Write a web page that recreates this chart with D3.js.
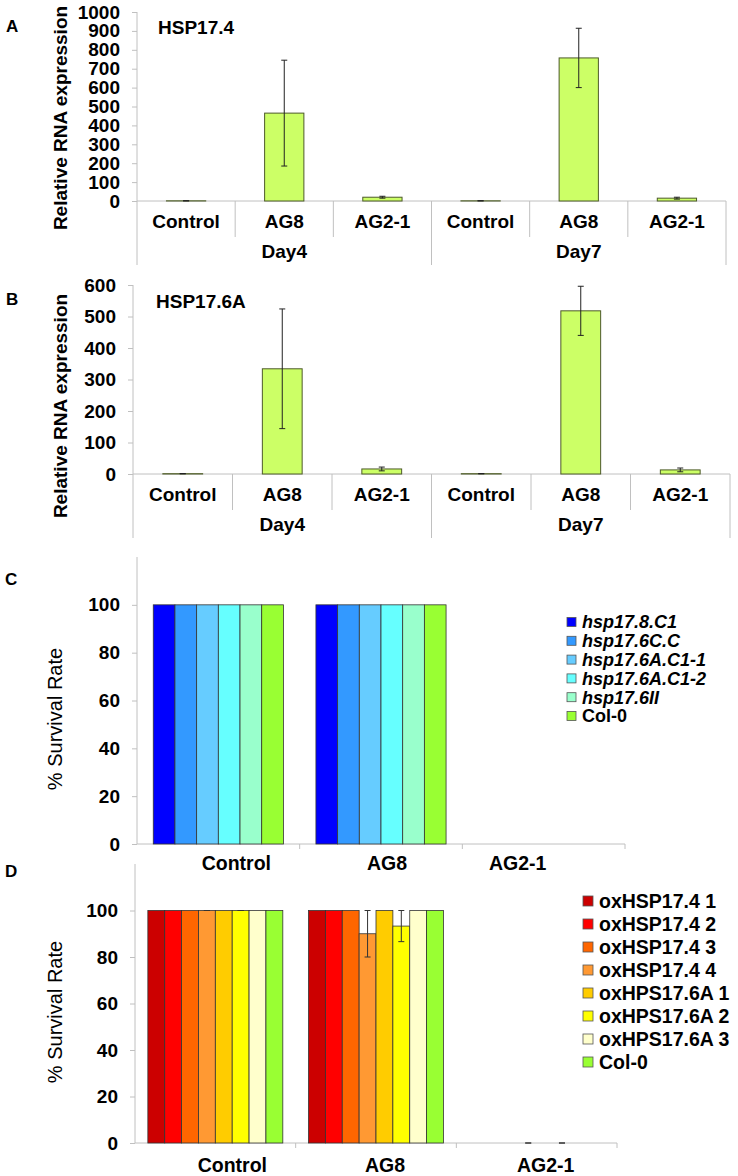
<!DOCTYPE html>
<html><head><meta charset="utf-8">
<script src="https://cdn.jsdelivr.net/npm/d3@7"></script>
<style>
body{margin:0;background:#fff}
svg{display:block}
text{font-family:"Liberation Sans",Arial,Helvetica,sans-serif;fill:#000}
</style>
</head><body>
<svg id="chart" width="738" height="1176"></svg>
<script>
// ---------------- DATA ----------------
const treatments = ["Control", "AG8", "AG2-1"];
const days = ["Day4", "Day7"];
// order: Day4 Control, AG8, AG2-1, Day7 Control, AG8, AG2-1
const hsp174Mean = [1, 465, 20, 1, 757, 15];
const hsp174Err  = [0.5, 280, 5, 0.5, 157, 5];
const hsp176aMean = [1, 334, 16, 1, 518, 13];
const hsp176aErr  = [0.5, 190, 6, 0.5, 78, 6];
const ticksA = [0, 100, 200, 300, 400, 500, 600, 700, 800, 900, 1000];
const ticksB = [0, 100, 200, 300, 400, 500, 600];

const survivalConditions = ["Control", "AG8", "AG2-1"];
const survivalTicks = [0, 20, 40, 60, 80, 100];

const mutantLines = ["hsp17.8.C1", "hsp17.6C.C", "hsp17.6A.C1-1", "hsp17.6A.C1-2", "hsp17.6II", "Col-0"];
const mutantColors = ["#0000ff", "#3399ff", "#66ccff", "#66ffff", "#99ffcc", "#99ff33"];
const mutantControl = [100, 100, 100, 100, 100, 100];
const mutantAG8     = [100, 100, 100, 100, 100, 100];
const mutantAG21    = [0, 0, 0, 0, 0, 0];

const oxLines = ["oxHSP17.4 1", "oxHSP17.4 2", "oxHSP17.4 3", "oxHSP17.4 4", "oxHPS17.6A 1", "oxHPS17.6A 2", "oxHPS17.6A 3", "Col-0"];
const oxColors = ["#cc0000", "#ff0000", "#ff6600", "#ff9933", "#ffcc00", "#ffff00", "#ffffcc", "#99ff33"];
const oxControl = [100, 100, 100, 100, 100, 100, 100, 100];
const oxAG8     = [100, 100, 100, 90, 100, 93.3, 100, 100];
const oxAG8Err  = [0, 0, 0, 10, 0, 6.7, 0, 0];
const oxAG21    = [0, 0, 0, 0, 0, 0, 0, 0];
const oxAG21Err = [0, 0, 0, 0, 0, 0, 0, 0];
const oxErrSeries = [false, false, false, true, false, true, false, false];

// ---------------- DRAW ----------------
const svg = d3.select("#chart");
const AXIS = "#c0c0c0";
const FONT = '"Liberation Sans",Arial,sans-serif';
const fmt = d3.format("d");

function panelLetter(t, x, y) {
  svg.append("text").attr("x", x).attr("y", y).text(t)
    .style("font-size", "17px").style("font-weight", "bold");
}

function yLabel(t, cx, cy, size, weight) {
  svg.append("text").attr("transform", `translate(${cx},${cy}) rotate(-90)`)
    .attr("text-anchor", "middle").attr("dy", "0.35em").text(t)
    .style("font-size", size + "px").style("font-weight", weight);
}

function expressionPanel(cfg) {
  const keys = [];
  days.forEach(d => treatments.forEach(t => keys.push(d + "|" + t)));
  const x = d3.scaleBand().domain(keys).range([cfg.x0, cfg.x1]);
  const y = d3.scaleLinear().domain([0, cfg.ymax]).range([cfg.yBase, cfg.yTop]);
  const bw = x.bandwidth();
  const g = svg.append("g");

  const ax = g.append("g").attr("transform", `translate(${cfg.x0},0)`)
    .call(d3.axisLeft(y).tickValues(cfg.ticks).tickFormat(fmt).tickSize(5).tickPadding(12).tickSizeOuter(0));
  ax.select(".domain").remove();
  ax.selectAll(".tick line").attr("stroke", AXIS);
  ax.selectAll(".tick text").style("font-size", "19px").style("font-weight", "bold")
    .style("font-family", FONT).attr("fill", "#000");
  g.append("line").attr("x1", cfg.x0).attr("x2", cfg.x0)
    .attr("y1", y(cfg.ymax)).attr("y2", cfg.yBase + 64).attr("stroke", AXIS);
  g.append("line").attr("x1", cfg.x0).attr("x2", cfg.x1)
    .attr("y1", cfg.yBase).attr("y2", cfg.yBase).attr("stroke", AXIS);
  keys.forEach((k, i) => {
    if (i === 0) return;
    const long = i % 3 === 0;
    g.append("line").attr("x1", x(k)).attr("x2", x(k))
      .attr("y1", cfg.yBase).attr("y2", cfg.yBase + (long ? 64 : 36)).attr("stroke", AXIS);
  });
  g.append("line").attr("x1", cfg.x1).attr("x2", cfg.x1)
    .attr("y1", cfg.yBase).attr("y2", cfg.yBase + 64).attr("stroke", AXIS);

  const bar = bw * 0.4;
  g.selectAll("rect.bar").data(keys).join("rect")
    .attr("x", k => x(k) + (bw - bar) / 2)
    .attr("width", bar)
    .attr("y", (k, i) => y(cfg.mean[i]))
    .attr("height", (k, i) => cfg.yBase - y(cfg.mean[i]))
    .attr("fill", "#ccff66").attr("stroke", "#4d5a2a").attr("stroke-width", 1);
  keys.forEach((k, i) => {
    const cx = x(k) + bw / 2;
    const hi = y(cfg.mean[i] + cfg.err[i]);
    const lo = y(Math.max(0, cfg.mean[i] - cfg.err[i]));
    g.append("line").attr("x1", cx).attr("x2", cx).attr("y1", hi).attr("y2", lo)
      .attr("stroke", "#222").attr("stroke-width", 1);
    [hi, lo].forEach(v => g.append("line").attr("x1", cx - 3).attr("x2", cx + 3)
      .attr("y1", v).attr("y2", v).attr("stroke", "#222").attr("stroke-width", 1));
  });

  keys.forEach(k => {
    g.append("text").attr("x", x(k) + bw / 2).attr("y", cfg.yBase + 27)
      .attr("text-anchor", "middle").text(k.split("|")[1])
      .style("font-size", "19px").style("font-weight", "bold");
  });
  days.forEach(d => {
    const a = x(d + "|" + treatments[0]);
    const b = x(d + "|" + treatments[treatments.length - 1]) + bw;
    g.append("text").attr("x", (a + b) / 2).attr("y", cfg.yBase + 57)
      .attr("text-anchor", "middle").text(d)
      .style("font-size", "19px").style("font-weight", "bold");
  });

  g.append("text").attr("x", cfg.titleX).attr("y", cfg.titleY).text(cfg.title)
    .style("font-size", "19px").style("font-weight", "bold");
}

function survivalPanel(cfg) {
  const x0 = d3.scaleBand().domain(survivalConditions).range([cfg.x0, cfg.x1]);
  const bw = x0.bandwidth();
  const pad = bw * (1 - cfg.groupFrac) / 2;
  const x1 = d3.scaleBand().domain(cfg.series).range([pad, bw - pad]);
  const y = d3.scaleLinear().domain([0, 120]).range([cfg.yBase, cfg.yTop]);
  const g = svg.append("g");

  const ax = g.append("g").attr("transform", `translate(${cfg.x0},0)`)
    .call(d3.axisLeft(y).tickValues(survivalTicks).tickFormat(fmt).tickSize(5).tickPadding(12).tickSizeOuter(0));
  ax.select(".domain").remove();
  ax.selectAll(".tick line").attr("stroke", AXIS);
  ax.selectAll(".tick text").style("font-size", "19px").style("font-weight", "bold")
    .style("font-family", FONT).attr("fill", "#000");
  g.append("line").attr("x1", cfg.x0).attr("x2", cfg.x0)
    .attr("y1", y(120)).attr("y2", cfg.yBase).attr("stroke", AXIS);
  g.append("line").attr("x1", cfg.x0).attr("x2", cfg.x1)
    .attr("y1", cfg.yBase).attr("y2", cfg.yBase).attr("stroke", AXIS);
  survivalConditions.forEach((c, i) => {
    if (i === 0) return;
    g.append("line").attr("x1", x0(c)).attr("x2", x0(c))
      .attr("y1", cfg.yBase).attr("y2", cfg.yBase + 5).attr("stroke", AXIS);
  });
  g.append("line").attr("x1", cfg.x1).attr("x2", cfg.x1)
    .attr("y1", cfg.yBase).attr("y2", cfg.yBase + 5).attr("stroke", AXIS);

  survivalConditions.forEach((c, ci) => {
    const vals = cfg.values[ci];
    const errs = cfg.errs ? cfg.errs[ci] : null;
    cfg.series.forEach((s, si) => {
      const v = vals[si];
      const bx = x0(c) + x1(s);
      if (v > 0) {
        g.append("rect").attr("x", bx).attr("width", x1.bandwidth())
          .attr("y", y(v)).attr("height", cfg.yBase - y(v))
          .attr("fill", cfg.colors[si]).attr("stroke", "#333").attr("stroke-width", 0.8);
      }
      if (errs && cfg.errSeries && cfg.errSeries[si]) {
        const cx = bx + x1.bandwidth() / 2;
        const hi = y(v + errs[si]);
        const lo = y(Math.max(0, v - errs[si]));
        g.append("line").attr("x1", cx).attr("x2", cx).attr("y1", hi).attr("y2", lo)
          .attr("stroke", "#333").attr("stroke-width", 1);
        [hi, lo].forEach(t => g.append("line").attr("x1", cx - 3).attr("x2", cx + 3)
          .attr("y1", t).attr("y2", t).attr("stroke", "#333").attr("stroke-width", 1));
      }
    });
    g.append("text").attr("x", x0(c) + bw / 2 + cfg.labelNudge[ci]).attr("y", cfg.labelY)
      .attr("text-anchor", "middle").text(c)
      .style("font-size", "19.5px").style("font-weight", "bold");
  });

  const lg = svg.append("g");
  cfg.series.forEach((s, i) => {
    const cy = cfg.legY + i * cfg.legStep;
    lg.append("rect").attr("x", cfg.legX).attr("y", cy - cfg.legBox / 2)
      .attr("width", cfg.legBox).attr("height", cfg.legBox)
      .attr("fill", cfg.colors[i]).attr("stroke", "#555").attr("stroke-width", 0.8);
    const italic = cfg.italic && s !== "Col-0";
    lg.append("text").attr("x", cfg.legX + cfg.legBox + 6).attr("y", cy).attr("dy", "0.35em")
      .text(s).style("font-size", cfg.legFont + "px").style("font-weight", "bold")
      .style("font-style", italic ? "italic" : "normal");
  });
}

// Panel A
panelLetter("A", 6, 32);
yLabel("Relative RNA expression", 60, 118, 19, "bold");
expressionPanel({x0: 137, x1: 726, yBase: 201, yTop: 12, ymax: 1000, ticks: ticksA,
  mean: hsp174Mean, err: hsp174Err, title: "HSP17.4", titleX: 158, titleY: 34});

// Panel B
panelLetter("B", 6, 305);
yLabel("Relative RNA expression", 60, 406, 19, "bold");
expressionPanel({x0: 133, x1: 730, yBase: 474, yTop: 285, ymax: 600, ticks: ticksB,
  mean: hsp176aMean, err: hsp176aErr, title: "HSP17.6A", titleX: 156, titleY: 308});

// Panel C
panelLetter("C", 5, 585);
yLabel("% Survival Rate", 55, 719, 20, "normal");
survivalPanel({x0: 137, x1: 625, yBase: 844, yTop: 557, groupFrac: 0.8,
  series: mutantLines, colors: mutantColors,
  values: [mutantControl, mutantAG8, mutantAG21], errs: null,
  labelY: 870, labelNudge: [18, 6, -26],
  legX: 567, legY: 622, legStep: 18.8, legBox: 9, legFont: 18, italic: true});

// Panel D
panelLetter("D", 5, 877);
yLabel("% Survival Rate", 55, 1012, 20, "normal");
survivalPanel({x0: 135, x1: 617, yBase: 1143, yTop: 864, groupFrac: 0.84,
  series: oxLines, colors: oxColors,
  values: [oxControl, oxAG8, oxAG21], errs: [oxControl.map(() => 0), oxAG8Err, oxAG21Err],
  errSeries: oxErrSeries,
  labelY: 1172, labelNudge: [17, 9, 9],
  legX: 583, legY: 901, legStep: 23, legBox: 10, legFont: 19.5, italic: false});
</script>
</body></html>
